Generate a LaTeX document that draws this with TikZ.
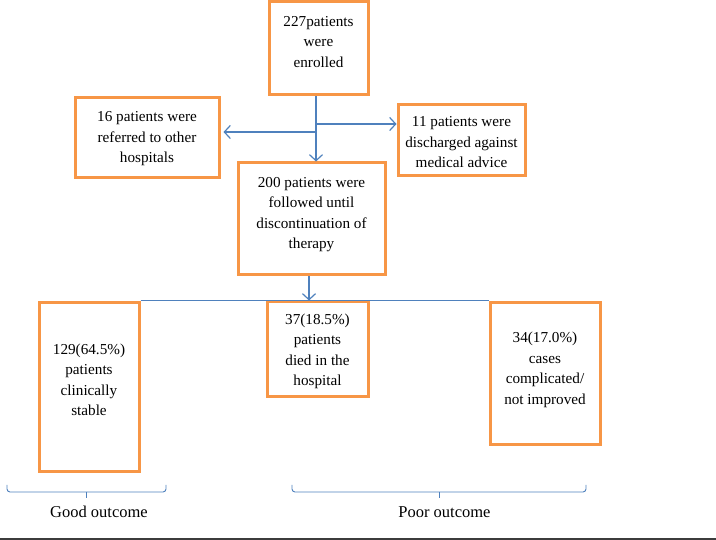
\documentclass[tikz,border=0pt]{standalone}
\usepackage{fontspec}
\setmainfont{Liberation Serif}
\usetikzlibrary{arrows.meta}
\definecolor{boxorange}{RGB}{247,150,70}
\definecolor{lineblue}{RGB}{79,129,189}
\definecolor{rulegray}{RGB}{60,60,60}
\newcommand{\boxtext}[2]{\raisebox{#1}[\height][\depth]{\begin{tabular}{@{}c@{}}#2\end{tabular}}}
\begin{document}
\begin{tikzpicture}[x=1pt,y=-1pt,
  box/.style={draw=boxorange,line width=3pt,inner sep=0pt,
    font=\fontsize{15.2}{20.5}\selectfont},
  conn/.style={draw=lineblue,line width=1.2pt},
  arr/.style={conn,-{Straight Barb[length=6pt,width=13pt,line width=1.2pt]}},
  brace/.style={draw=lineblue,line width=0.9pt,rounded corners=3pt},
  lab/.style={font=\fontsize{16.5}{20}\selectfont,inner sep=0pt}]
\useasboundingbox (0,0) rectangle (716,540);
\node[box,minimum width=99pt,minimum height=93pt] (top) at (318.5,48.5) {\boxtext{6pt}{227patients\\were\\enrolled}};
\node[box,minimum width=144pt,minimum height=80pt] (ref) at (147,138) {\boxtext{0pt}{16 patients were\\referred to other\\hospitals}};
\node[box,minimum width=127pt,minimum height=71pt] (dis) at (461.5,140.5) {\boxtext{-2.5pt}{11 patients were\\discharged against\\medical advice}};
\node[box,minimum width=147pt,minimum height=112pt] (fol) at (311.5,219) {\boxtext{5pt}{200 patients were\\followed until\\discontinuation of\\therapy}};
\node[box,minimum width=100pt,minimum height=169pt] (good) at (89,387.5) {\boxtext{6.5pt}{129(64.5\%)\\patients\\clinically\\stable}};
\node[box,minimum width=101pt,minimum height=95pt] (died) at (317.5,349.5) {\boxtext{-1.5pt}{37(18.5\%)\\patients\\died in the\\hospital}};
\node[box,minimum width=110pt,minimum height=142pt] (comp) at (545,374) {\boxtext{4.5pt}{34(17.0\%)\\cases\\complicated/\\not improved}};
% connectors
\coordinate (s) at ([xshift=-2.5pt]top.south);
\coordinate (jl) at (316,132);
\coordinate (jr) at (316,124);
\draw[arr] (s) -- (s |- fol.north);
\draw[arr] (jl) -- ([xshift=3pt]jl -| ref.east);
\draw[arr] (jr) -- (jr -| dis.west);
\coordinate (b) at (309,275);
\draw[conn] (good.north east |- died.north) -- (comp.north west |- died.north);
\draw[arr] (b |- fol.south) -- (b |- died.north);
% braces
\draw[brace] (7,485) -- (7,492) -- (166,492) -- (166,485);
\draw[brace] (86.5,492) -- (86.5,498);
\draw[brace] (292,485) -- (292,492) -- (586,492) -- (586,485);
\draw[brace] (439,492) -- (439,498);
\node[lab] (goodlab) at (99,512) {Good outcome};
\node[lab] (poorlab) at (444.5,512) {Poor outcome};
\draw[rulegray,line width=1.4pt] (0,539) -- (716,539);
\end{tikzpicture}
\end{document}
